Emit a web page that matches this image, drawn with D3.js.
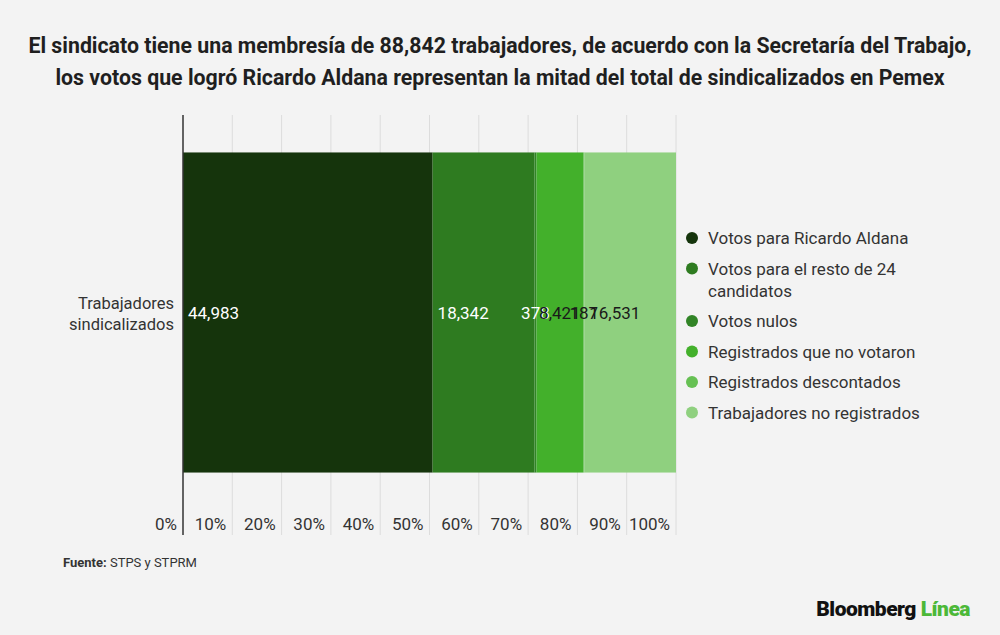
<!DOCTYPE html>
<html>
<head>
<meta charset="utf-8">
<script src="https://cdn.jsdelivr.net/npm/d3@7"></script>
<style>
  body { margin: 0; background: #f3f3f3; font-family: Roboto, "Noto Sans", sans-serif; }
</style>
</head>
<body>
<svg id="chart" width="1000" height="635"></svg>
<script>
// data
var category = ["Trabajadores", "sindicalizados"];
var series = ["Votos para Ricardo Aldana", "Votos para el resto de 24 candidatos", "Votos nulos",
              "Registrados que no votaron", "Registrados descontados", "Trabajadores no registrados"];
var values = [44983, 18342, 378, 8421, 187, 16531];
var colors = ["#15340c", "#2e7b20", "#318426", "#43b02b", "#66c053", "#8fd07f"];
var labelColors = ["#fff", "#fff", "#fff", "#1a1a1a", "#1a1a1a", "#1a1a1a"];
var ticks = [0, 0.1, 0.2, 0.3, 0.4, 0.5, 0.6, 0.7, 0.8, 0.9, 1];

var svg = d3.select("#chart");
var total = d3.sum(values);

// title
svg.append("text")
    .attr("x", 500).attr("y", 53)
    .attr("text-anchor", "middle")
    .style("font-size", "21.3px").style("font-weight", "bold").style("fill", "#1f1f1f")
    .selectAll("tspan")
    .data(["El sindicato tiene una membresía de 88,842 trabajadores, de acuerdo con la Secretaría del Trabajo,",
           "los votos que logró Ricardo Aldana representan la mitad del total de sindicalizados en Pemex"])
    .join("tspan")
    .attr("x", 500)
    .attr("dy", function(d, i) { return i ? 32 : 0; })
    .text(function(d) { return d; });

var x = d3.scaleLinear().domain([0, 1]).range([183, 676]);
var y = d3.scaleBand().domain(["row"]).range([115, 510]).paddingInner(0).paddingOuter(0.117);

// gridlines
svg.append("g")
    .selectAll("line")
    .data(ticks.slice(1))
    .join("line")
    .attr("x1", function(d) { return x(d); }).attr("x2", function(d) { return x(d); })
    .attr("y1", 115).attr("y2", 535)
    .attr("stroke", "#dcdcdc").attr("stroke-width", 1);

// tick labels
svg.append("g")
    .selectAll("text")
    .data(ticks)
    .join("text")
    .attr("x", function(d) { return x(d) - 6; })
    .attr("y", 530)
    .attr("text-anchor", "end")
    .style("font-size", "17px").style("fill", "#333")
    .text(d3.format(".0%"));

// stacked segments
var cum = 0;
var segs = values.map(function(v, i) {
    var s = { i: i, v: v, x0: cum / total, x1: (cum + v) / total };
    cum += v;
    return s;
});

var bar = svg.append("g");
bar.selectAll("rect")
    .data(segs)
    .join("rect")
    .attr("x", function(d) { return x(d.x0); })
    .attr("width", function(d) { return x(d.x1) - x(d.x0); })
    .attr("y", y("row"))
    .attr("height", y.bandwidth())
    .attr("fill", function(d) { return colors[d.i]; });

// value labels (tiny segments get their label centred, as in the original)
var fmt = d3.format(",");
var cy = y("row") + y.bandwidth() / 2;
bar.selectAll("text")
    .data(segs)
    .join("text")
    .attr("y", cy + 6)
    .style("font-size", "17px")
    .style("fill", function(d) { return labelColors[d.i]; })
    .text(function(d) { return fmt(d.v); })
    .each(function(d) {
        var w = this.getComputedTextLength();
        var segW = x(d.x1) - x(d.x0);
        if (segW < w + 10) {
            d3.select(this).attr("x", (x(d.x0) + x(d.x1)) / 2).attr("text-anchor", "middle");
        } else {
            d3.select(this).attr("x", x(d.x0) + 5);
        }
    });

// axis line
svg.append("line")
    .attr("x1", x(0)).attr("x2", x(0))
    .attr("y1", 115).attr("y2", 535)
    .attr("stroke", "#333").attr("stroke-width", 1.5);

// category label
svg.append("text")
    .attr("text-anchor", "end")
    .style("font-size", "16.5px").style("fill", "#333")
    .selectAll("tspan")
    .data(category)
    .join("tspan")
    .attr("x", 174)
    .attr("y", function(d, i) { return cy - 4 + i * 21; })
    .text(function(d) { return d; });

// legend
var legendLines = [["Votos para Ricardo Aldana"], ["Votos para el resto de 24", "candidatos"], ["Votos nulos"],
                   ["Registrados que no votaron"], ["Registrados descontados"], ["Trabajadores no registrados"]];
var ly = 238;
series.forEach(function(s, i) {
    var g = svg.append("g");
    g.append("circle").attr("cx", 692).attr("cy", ly).attr("r", 6).attr("fill", colors[i]);
    legendLines[i].forEach(function(t, j) {
        g.append("text")
            .attr("x", 708).attr("y", ly + 6 + j * 22)
            .style("font-size", "17px").style("fill", "#333")
            .text(t);
    });
    ly += 30.5 + (legendLines[i].length - 1) * 22;
});

// source
var src = svg.append("text").attr("x", 63).attr("y", 567).style("font-size", "13px").style("fill", "#333");
src.append("tspan").style("font-weight", "bold").text("Fuente: ");
src.append("tspan").text("STPS y STPRM");

// logo
var logo = svg.append("text").attr("x", 970).attr("y", 616).attr("text-anchor", "end")
    .style("font-size", "21px").style("font-weight", "900").style("letter-spacing", "-0.5px");
logo.append("tspan").style("fill", "#111").text("Bloomberg ");
logo.append("tspan").style("fill", "#4cb838").text("Línea");
</script>
</body>
</html>
